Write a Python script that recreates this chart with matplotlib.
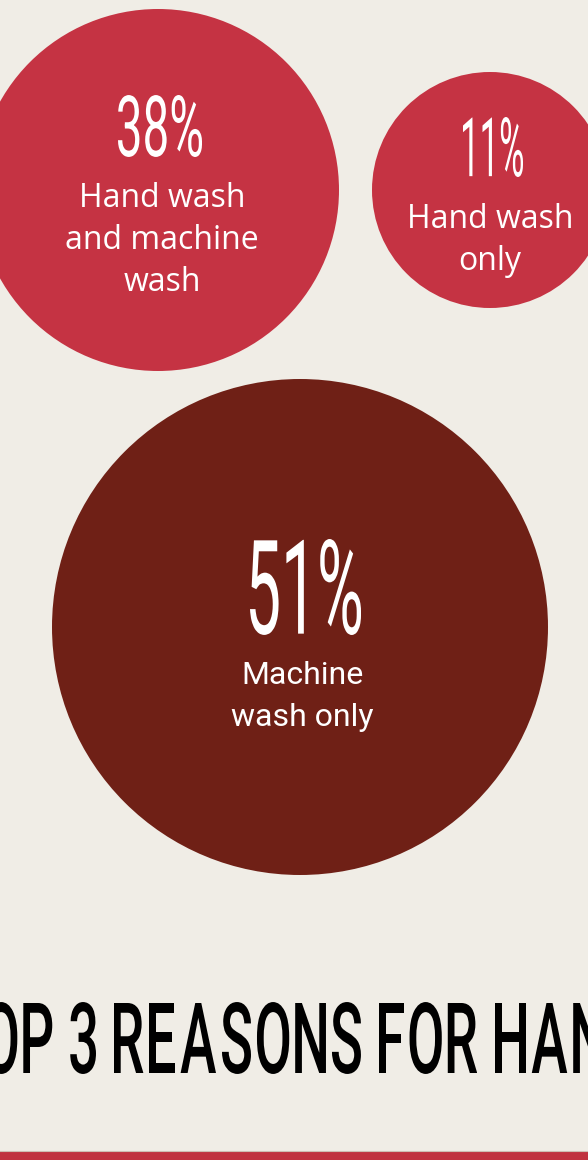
import matplotlib
matplotlib.use("Agg")
import matplotlib.pyplot as plt
from matplotlib.patches import Circle, PathPatch, Rectangle
from matplotlib.textpath import TextPath
from matplotlib.font_manager import FontProperties
from matplotlib.transforms import Affine2D

# data
shares = [38, 11, 51]
labels = ["Hand wash\nand machine\nwash", "Hand wash\nonly", "Machine\nwash only"]
title = "TOP 3 REASONS FOR HANDWASHING"

# layout (pixels, y grows downward)
centers = [(158, 190), (490, 190), (300, 627)]
radii = [181, 118, 248]
colors = ["#c53343", "#c53343", "#6f2016"]
num_boxes = [(118, 202, 95, 157), (463, 523, 117, 177), (250, 361, 539, 635)]
label_base = [(162, 207), (490, 228), (302, 684)]
label_fonts = ["Open Sans", "Open Sans", "Roboto"]
line_gap = 42

bg = "#f0ede6"
W, H = 588, 1160

fig = plt.figure(figsize=(W / 100, H / 100), dpi=100)
fig.patch.set_facecolor(bg)
ax = fig.add_axes([0, 0, 1, 1])
ax.set_xlim(0, W)
ax.set_ylim(H, 0)
ax.axis("off")
ax.set_facecolor(bg)


def fit_text(txt, prop, x0, x1, ytop, ybot, color):
    # squeeze a text path into a box, gives the tall condensed look
    p = TextPath((0, 0), txt, size=100, prop=prop)
    e = p.get_extents()
    sx = (x1 - x0) / e.width
    sy = (ybot - ytop) / e.height
    tr = Affine2D().translate(-e.x0, -e.y0).scale(sx, -sy).translate(x0, ybot)
    ax.add_patch(PathPatch(p, transform=tr + ax.transData, fc=color, ec="none", zorder=3))


num_prop = FontProperties(family="Roboto", weight="normal")

for i in range(len(shares)):
    cx, cy = centers[i]
    ax.add_patch(Circle((cx, cy), radii[i], fc=colors[i], ec="none", zorder=1))
    x0, x1, yt, yb = num_boxes[i]
    fit_text(str(shares[i]) + "%", num_prop, x0, x1, yt, yb, "white")
    lx, ly = label_base[i]
    for j, line in enumerate(labels[i].split("\n")):
        ax.text(lx, ly + j * line_gap, line, color="white", fontsize=23,
                family=label_fonts[i], ha="center", va="baseline", zorder=4)

# title: letter by letter, condensed, runs past both edges
tprop = FontProperties(family="Roboto", weight="medium")
capH = TextPath((0, 0), "H", size=100, prop=tprop).get_extents().height
sy = (1073 - 1003) / capH
gap = 6
space_w = 12

glyphs = []
for ch in title:
    if ch == " ":
        glyphs.append(None)
    else:
        glyphs.append(TextPath((0, 0), ch, size=100, prop=tprop))

# find the x squeeze so that R (REASONS) sits at 114 and H (HAND) at 495
iR = title.index("R")
iH = title.index("H")
ink = 0
nglyph = 0
nspace = 0
for k in range(iR, iH):
    if glyphs[k] is None:
        nspace += 1
    else:
        ink += glyphs[k].get_extents().width
        nglyph += 1
sx = (495 - 114 - nglyph * gap - nspace * space_w) / ink

pos = []
x = 0
for g in glyphs:
    pos.append(x)
    if g is None:
        x += space_w
    else:
        x += g.get_extents().width * sx + gap
shift = 114 - pos[iR]

for g, px in zip(glyphs, pos):
    if g is None:
        continue
    e = g.get_extents()
    tr = Affine2D().translate(-e.x0, 0).scale(sx, -sy).translate(px + shift, 1073)
    ax.add_patch(PathPatch(g, transform=tr + ax.transData, fc="black", ec="none", zorder=3))

# red bar at the bottom
ax.add_patch(Rectangle((0, 1151), W, 9, fc="#c0323f", ec="none", zorder=2))
ax.plot([0, W], [1150.5, 1150.5], color="#cdbfb3", lw=0.8, zorder=2)

fig.savefig("out.png", dpi=100, facecolor=bg)
